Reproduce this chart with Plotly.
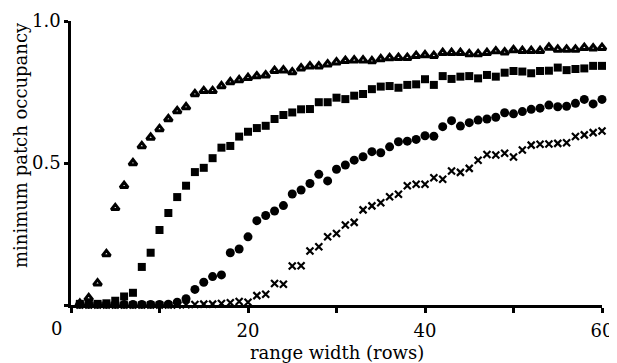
import plotly.graph_objects as go

x_rows = list(range(1, 61))

triangles = [0.005, 0.025, 0.077, 0.18, 0.342, 0.42, 0.50, 0.56, 0.59, 0.62,
             0.655, 0.683, 0.697, 0.743, 0.754, 0.754, 0.771, 0.785, 0.792, 0.80,
             0.806, 0.809, 0.825, 0.827, 0.82, 0.834, 0.841, 0.841, 0.848, 0.855,
             0.86, 0.862, 0.862, 0.859, 0.866, 0.87, 0.871, 0.871, 0.878, 0.88,
             0.878, 0.888, 0.888, 0.888, 0.884, 0.884, 0.888, 0.894, 0.89, 0.898,
             0.895, 0.895, 0.895, 0.907, 0.90, 0.90, 0.90, 0.906, 0.904, 0.906]

squares = [0.004, 0.004, 0.004, 0.006, 0.015, 0.03, 0.043, 0.134, 0.184, 0.264,
           0.324, 0.38, 0.42, 0.468, 0.483, 0.517, 0.554, 0.56, 0.593, 0.61,
           0.623, 0.631, 0.655, 0.669, 0.678, 0.689, 0.69, 0.714, 0.714, 0.73,
           0.725, 0.737, 0.743, 0.76, 0.769, 0.771, 0.765, 0.775, 0.777, 0.795,
           0.775, 0.806, 0.796, 0.804, 0.806, 0.798, 0.81, 0.804, 0.818, 0.824,
           0.822, 0.816, 0.824, 0.825, 0.836, 0.827, 0.831, 0.833, 0.842, 0.842]

circles = [0.002, 0.002, 0.002, 0.002, 0.002, 0.002, 0.002, 0.002, 0.002, 0.002,
           0.003, 0.01, 0.022, 0.055, 0.08, 0.10, 0.106, 0.184, 0.197, 0.24,
           0.297, 0.315, 0.331, 0.35, 0.391, 0.405, 0.428, 0.46, 0.437, 0.478,
           0.493, 0.51, 0.522, 0.54, 0.536, 0.557, 0.575, 0.577, 0.583, 0.596,
           0.594, 0.628, 0.649, 0.63, 0.642, 0.651, 0.655, 0.661, 0.677, 0.673,
           0.681, 0.689, 0.693, 0.704, 0.698, 0.70, 0.71, 0.724, 0.708, 0.724]

crosses = [0.0, 0.0, 0.0, 0.0, 0.0, 0.0, 0.0, 0.0, 0.0, 0.0,
           0.0, 0.0, 0.001, 0.002, 0.003, 0.003, 0.005, 0.008, 0.012, 0.01,
           0.033, 0.038, 0.076, 0.073, 0.137, 0.138, 0.19, 0.205, 0.24, 0.252,
           0.282, 0.291, 0.335, 0.349, 0.36, 0.381, 0.39, 0.42, 0.425, 0.425,
           0.448, 0.443, 0.472, 0.467, 0.481, 0.51, 0.53, 0.528, 0.534, 0.521,
           0.546, 0.563, 0.566, 0.567, 0.569, 0.571, 0.593, 0.599, 0.607, 0.613]

x_tickvals = [0, 10, 20, 30, 40, 50, 60]
x_ticktext = ["", "", "20", "", "40", "", "60"]
y_tickvals = [0, 0.5, 1.0]
y_ticktext = ["", "0.5", "1.0"]
x_title = "range width (rows)"
y_title = "minimum patch occupancy"

FONT = "DejaVu Serif, Liberation Serif, serif"
FS = 18

fig = go.Figure()
fig.add_trace(go.Scatter(x=x_rows, y=triangles, mode="markers", cliponaxis=False,
                         marker=dict(symbol="triangle-up-open", size=7, color="black",
                                     line=dict(width=3, color="black"))))
fig.add_trace(go.Scatter(x=x_rows, y=crosses, mode="markers", cliponaxis=False,
                         marker=dict(symbol="x-thin-open", size=7, color="black",
                                     line=dict(width=2.2, color="black"))))
fig.add_trace(go.Scatter(x=x_rows, y=circles, mode="markers", cliponaxis=False,
                         marker=dict(symbol="circle", size=9, color="black",
                                     line=dict(width=0))))
fig.add_trace(go.Scatter(x=x_rows, y=squares, mode="markers", cliponaxis=False,
                         marker=dict(symbol="square", size=8, color="black",
                                     line=dict(width=0))))

# page body has an 8px margin, so the figure is sized/offset to compensate
fig.update_layout(
    width=609, height=355,
    margin=dict(l=63, r=15, t=13, b=58),
    paper_bgcolor="white", plot_bgcolor="white",
    showlegend=False,
    font=dict(family=FONT, size=FS, color="black"),
)
fig.update_xaxes(range=[0, 60], tickvals=x_tickvals, ticktext=x_ticktext,
                 automargin=False,
                 showgrid=False, zeroline=False, showline=True, linewidth=2.5,
                 linecolor="black", ticks="outside", ticklen=5, tickwidth=2.5,
                 tickcolor="black", tickfont=dict(family=FONT, size=FS),
                 ticklabelstandoff=3)
fig.update_yaxes(range=[0, 1.0], tickvals=y_tickvals, ticktext=y_ticktext,
                 automargin=False,
                 showgrid=False, zeroline=False, showline=True, linewidth=2.5,
                 linecolor="black", ticks="outside", ticklen=4, tickwidth=2.5,
                 tickcolor="black", tickfont=dict(family=FONT, size=FS))
fig.add_annotation(x=0, y=0, xref="x", yref="paper", text="0", showarrow=False,
                   xanchor="center", yanchor="middle", xshift=-15, yshift=-23,
                   font=dict(family=FONT, size=FS, color="black"))
fig.add_annotation(x=0.5, y=0, xref="paper", yref="paper", text=x_title,
                   showarrow=False, xanchor="center", yanchor="middle", yshift=-47,
                   font=dict(family=FONT, size=FS, color="black"))
fig.add_annotation(x=0, y=0.5, xref="paper", yref="paper", text=y_title,
                   showarrow=False, xanchor="center", yanchor="middle", textangle=-90,
                   xshift=-51, yshift=18,
                   font=dict(family=FONT, size=FS, color="black"))

fig.write_html("out.html")
